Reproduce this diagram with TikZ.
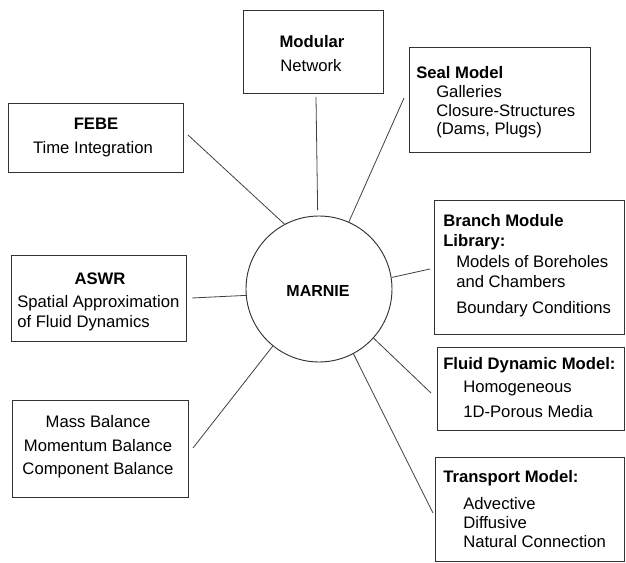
\documentclass[tikz,border=0pt]{standalone}
\usepackage{fontspec}
\setmainfont{Liberation Sans}
\usetikzlibrary{fit}
\tikzset{
        box/.style={draw=black!80, line width=0.7pt, inner sep=0pt},
        txt/.style={anchor=base west, inner sep=0.75pt, font=\fontsize{12.5}{15}\selectfont},
        ctxt/.style={txt, anchor=base},
        link/.style={draw=black!75, line width=0.6pt},
}
\begin{document}
\begin{tikzpicture}[x=0.75pt,y=0.75pt,yscale=-1,xscale=1]
        \useasboundingbox (0,0) rectangle (626,563);
        \node (marnie) [circle, draw=black!80, line width=0.7pt, minimum size=109.5pt, inner sep=0pt] at (319,289) {};
        \node (marnie-t) [ctxt, font=\fontsize{12}{15}\selectfont\bfseries] at (318,297) {MARNIE};

        \node (modular) [box, fit={(243,10) (383,93)}] {};
        \node (seal) [box, fit={(409,47) (590,152)}] {};
        \node (febe) [box, fit={(8,103) (183,172)}] {};
        \node (aswr) [box, fit={(11,255) (186,341)}] {};
        \node (balance) [box, fit={(12,400) (188,497)}] {};
        \node (branch) [box, fit={(434,200) (624,334)}] {};
        \node (fluid) [box, fit={(437,347) (624,430)}] {};
        \node (transport) [box, fit={(435,457) (624,561)}] {};

        \node (modular-1) [ctxt] at (312,48) {\textbf{Modular}};
        \node (modular-2) [ctxt] at (311,72) {Network};

        \node (seal-1) [txt] at (415,79) {\textbf{Seal Model}};
        \node (seal-2) [txt] at (435,98) {Galleries};
        \node (seal-3) [txt] at (435,117) {Closure-Structures};
        \node (seal-4) [txt] at (435,135) {(Dams, Plugs)};

        \node (febe-1) [ctxt] at (96,130) {\textbf{FEBE}};
        \node (febe-2) [ctxt] at (93,154) {Time Integration};

        \node (aswr-1) [ctxt] at (100,285) {\textbf{ASWR}};
        \node (aswr-2) [txt] at (16,308) {Spatial Approximation};
        \node (aswr-3) [txt] at (16,328) {of Fluid Dynamics};

        \node (balance-1) [ctxt] at (98,428) {Mass Balance};
        \node (balance-2) [ctxt] at (98,452) {Momentum Balance};
        \node (balance-3) [ctxt] at (98,475) {Component Balance};

        \node (branch-1) [txt] at (442,227) {\textbf{Branch Module}};
        \node (branch-2) [txt] at (442,247) {\textbf{Library:}};
        \node (branch-3) [txt] at (455,268) {Models of Boreholes};
        \node (branch-4) [txt] at (455,288) {and Chambers};
        \node (branch-5) [txt] at (455,314) {Boundary Conditions};

        \node (fluid-1) [txt] at (442,370) {\textbf{Fluid Dynamic Model:}};
        \node (fluid-2) [txt] at (462,393) {Homogeneous};
        \node (fluid-3) [txt] at (462,418) {1D-Porous Media};

        \node (transport-1) [txt] at (442,483) {\textbf{Transport Model:}};
        \node (transport-2) [txt] at (462,510) {Advective};
        \node (transport-3) [txt] at (462,528) {Diffusive};
        \node (transport-4) [txt] at (462,547) {Natural Connection};

        \coordinate (modular-end) at (316,97);
        \coordinate (seal-end) at (404,98);
        \coordinate (febe-end) at (188,135);
        \coordinate (aswr-end) at (192,298);
        \coordinate (balance-end) at (193,448);
        \coordinate (branch-end) at (430,269);
        \coordinate (fluid-end) at (431,393);
        \coordinate (transport-end) at (433,513);

        \draw [link, shorten >=4pt] (modular-end) -- (marnie.91);
        \draw [link] (seal-end) -- (marnie.66);
        \draw [link] (febe-end) -- (marnie.118);
        \draw [link] (aswr-end) -- (marnie.185);
        \draw [link] (balance-end) -- (marnie.231);
        \draw [link] (branch-end) -- (marnie.9);
        \draw [link] (fluid-end) -- (marnie.318);
        \draw [link] (transport-end) -- (marnie.298);
\end{tikzpicture}
\end{document}
